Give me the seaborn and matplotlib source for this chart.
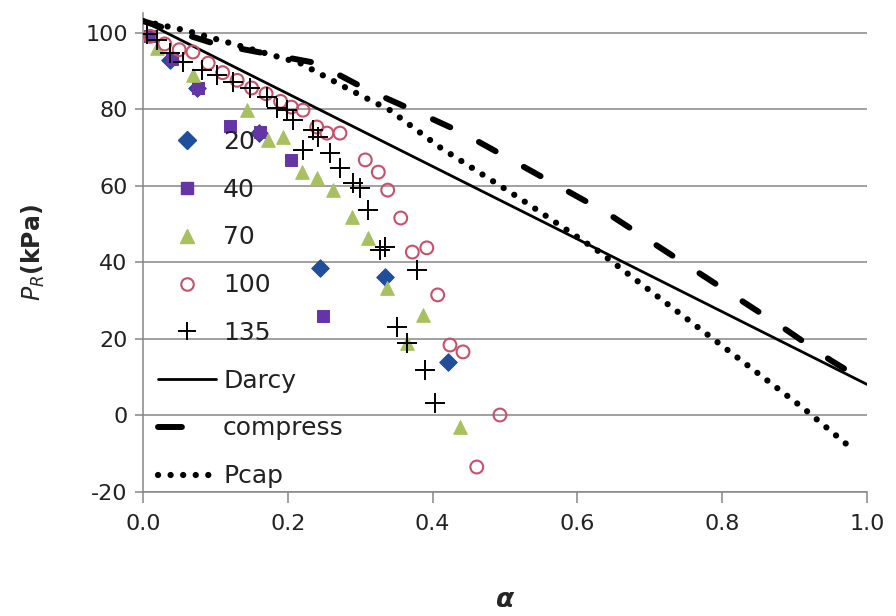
import numpy as np
import pandas as pd
import matplotlib
matplotlib.use("Agg")
import matplotlib.pyplot as plt
from matplotlib.lines import Line2D
import seaborn as sns

# ---- data ----
s20_x = [0.037, 0.074, 0.16, 0.245, 0.334, 0.421]
s20_y = [92.8, 85.5, 73.7, 38.5, 36.0, 13.9]

s40_x = [0.01, 0.04, 0.076, 0.12, 0.162, 0.205, 0.249]
s40_y = [99.0, 93.0, 85.5, 75.5, 74.0, 66.7, 25.9]

s70_x = [0.019, 0.069, 0.144, 0.173, 0.193, 0.22, 0.24, 0.262, 0.289, 0.311, 0.337, 0.364, 0.387, 0.438]
s70_y = [96.0, 89.0, 79.7, 71.9, 72.7, 63.5, 62.0, 58.8, 51.7, 46.3, 33.2, 18.8, 26.1, -3.1]

s100_x = [0.01, 0.03, 0.05, 0.069, 0.09, 0.11, 0.13, 0.15, 0.17, 0.19, 0.205, 0.221, 0.24, 0.254, 0.272,
          0.307, 0.325, 0.338, 0.356, 0.372, 0.392, 0.407, 0.424, 0.442, 0.461, 0.493]
s100_y = [99.0, 97.0, 95.5, 94.9, 92.0, 89.5, 87.5, 85.5, 84.0, 82.0, 80.5, 79.7, 75.3, 73.7, 73.7,
          66.7, 63.5, 58.8, 51.5, 42.6, 43.7, 31.4, 18.3, 16.5, -13.6, 0.0]

s135_x = [0.005, 0.019, 0.037, 0.055, 0.081, 0.102, 0.124, 0.148, 0.171, 0.185, 0.199, 0.207, 0.221, 0.235,
          0.242, 0.258, 0.272, 0.29, 0.3, 0.311, 0.327, 0.334, 0.351, 0.364, 0.378, 0.39, 0.403]
s135_y = [99.5, 98.0, 94.6, 92.3, 90.2, 88.9, 87.0, 85.5, 83.1, 80.3, 79.7, 77.1, 69.3, 74.5,
          72.7, 68.5, 64.6, 60.6, 59.3, 53.6, 43.1, 43.9, 23.0, 18.8, 37.9, 11.8, 3.1]

darcy_x = [0.0, 1.0]
darcy_y = [103.0, 8.0]

compress_x = [0.0, 0.1, 0.24, 0.31, 0.373, 0.442, 0.641, 0.825, 0.889, 0.949, 1.0]
compress_y = [103.0, 97.0, 92.0, 85.0, 79.7, 73.7, 52.8, 30.1, 22.2, 14.4, 8.5]

pcap_x = [0.0, 0.06, 0.217, 0.286, 0.341, 0.41, 0.52, 0.627, 0.793, 0.912, 0.976]
pcap_y = [103.0, 100.5, 92.0, 85.0, 79.7, 70.0, 56.7, 43.1, 19.1, 1.8, -8.3]

x_ticks = [0.0, 0.2, 0.4, 0.6, 0.8, 1.0]
x_tick_labels = ["0.0", "0.2", "0.4", "0.6", "0.8", "1.0"]
y_ticks = [-20, 0, 20, 40, 60, 80, 100]
y_tick_labels = ["-20", "0", "20", "40", "60", "80", "100"]

# ---- plotting ----
sns.set_theme(style="white")
plt.rcParams['font.family'] = ['DejaVu Sans']

fig = plt.figure(figsize=(8.96, 6.16), dpi=100)
ax = fig.add_axes([143 / 896, 1 - 491.5 / 616, (867 - 143) / 896, (491.5 - 13.4) / 616])

grid_c = "#868686"
for yv in y_ticks:
    ax.axhline(yv, color=grid_c, lw=1.1, zorder=0)

c20, c40, c70, c100 = "#1F4E9C", "#6535A8", "#A8C060", "#C8506A"

sns.lineplot(x=darcy_x, y=darcy_y, ax=ax, color="black", lw=2.0, zorder=3)
ln_c = sns.lineplot(x=compress_x, y=compress_y, ax=ax, color="black", lw=4.3, zorder=3).lines[-1]
ln_c.set_linestyle((0, (3.2, 5.4)))
ln_c.set_dash_capstyle("round")
ln_p = sns.lineplot(x=pcap_x, y=pcap_y, ax=ax, color="black", lw=4.5, zorder=3).lines[-1]
ln_p.set_linestyle((0, (0.01, 2.0)))
ln_p.set_dash_capstyle("round")

sns.scatterplot(x=s20_x, y=s20_y, ax=ax, marker="D", s=80, color=c20, edgecolor=c20, zorder=4)
sns.scatterplot(x=s40_x, y=s40_y, ax=ax, marker="s", s=75, color=c40, edgecolor=c40, zorder=4)
sns.scatterplot(x=s70_x, y=s70_y, ax=ax, marker="^", s=95, color=c70, edgecolor=c70, zorder=4)
sns.scatterplot(x=s100_x, y=s100_y, ax=ax, marker="o", s=85, facecolors="none", edgecolor=c100,
                linewidth=1.5, zorder=4)
sns.scatterplot(x=s135_x, y=s135_y, ax=ax, marker="+", s=190, color="black", linewidth=1.4, zorder=5)

ax.set_xlim(0, 1.0)
ax.set_ylim(-20, 105)
ax.set_xticks(x_ticks)
ax.set_xticklabels(x_tick_labels)
ax.set_yticks(y_ticks)
ax.set_yticklabels(y_tick_labels)

for sp in ["top", "right"]:
    ax.spines[sp].set_visible(False)
ax.spines["left"].set_color(grid_c)
ax.spines["bottom"].set_color(grid_c)
ax.spines["left"].set_linewidth(1.1)
ax.spines["bottom"].set_linewidth(1.1)

ax.tick_params(axis="y", which="major", direction="out", length=6, width=1.1, color=grid_c,
               labelsize=16, labelcolor="#222222", pad=5, left=True)
ax.tick_params(axis="x", which="major", direction="out", length=8, width=1.1, color=grid_c,
               labelsize=16, labelcolor="#222222", pad=8, bottom=True)

ax.set_xlabel("α", fontsize=19, fontweight="bold", fontstyle="italic")
ax.xaxis.set_label_coords(0.5, (491.5 - 587) / 478)
ax.set_ylabel("$\\mathbf{\\mathit{P}_{\\mathit{R}}}$(kPa)", fontsize=17, fontweight="bold")
ax.yaxis.set_label_coords((47 - 143) / 724, 0.5)

handles = [
    Line2D([], [], ls="none", marker="D", ms=9, color=c20),
    Line2D([], [], ls="none", marker="s", ms=8.5, color=c40),
    Line2D([], [], ls="none", marker="^", ms=9.5, color=c70),
    Line2D([], [], ls="none", marker="o", ms=9, mfc="none", mec=c100, mew=1.5),
    Line2D([], [], ls="none", marker="+", ms=13, color="black", mew=1.4),
    Line2D([], [], color="black", lw=2.0),
    Line2D([], [], color="black", lw=4.3, ls=(0, (4.0, 100)), dash_capstyle="round"),
    Line2D([], [], color="black", lw=4.5, ls=(0, (0.01, 2.0)), dash_capstyle="round"),
]
labels = ["20", "40", "70", "100", "135", "Darcy", "compress", "Pcap"]
leg = ax.legend(handles, labels, loc="upper left", bbox_to_anchor=(158 / 896, 1 - 130 / 616),
                bbox_transform=fig.transFigure, frameon=False, fontsize=18, handlelength=2.3,
                handletextpad=0.3, labelspacing=0.95, borderpad=0, borderaxespad=0)
for t in leg.get_texts():
    t.set_color("#222222")

fig.savefig("out.png", dpi=100)
